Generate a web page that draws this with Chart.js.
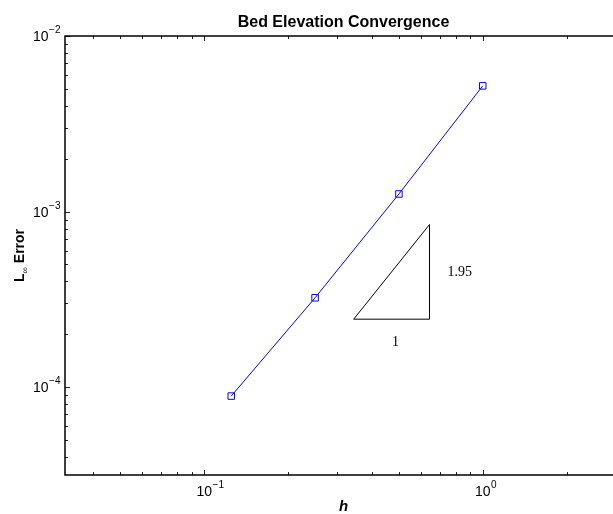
<!DOCTYPE html>
<html>
<head>
<meta charset="utf-8">
<script src="https://cdn.jsdelivr.net/npm/chart.js@4"></script>
<style>
  html, body { margin: 0; padding: 0; background: #fff; overflow: hidden; }
  canvas { display: block; }
</style>
</head>
<body>
<canvas id="convergence" width="640" height="514"></canvas>
<script>
// values
const hValues = [0.125, 0.25, 0.5, 1];
const errorValues = [8.9e-5, 3.23e-4, 1.26e-3, 5.2e-3];
const slopeTriangleH = [0.344, 0.644, 0.644, 0.344];
const slopeTriangleErr = [2.44e-4, 2.44e-4, 8.44e-4, 2.44e-4];
const slopeLabels = ['1', '1.95'];
const xTickExponents = [-1, 0];
const yTickExponents = [-4, -3, -2];
const titleText = 'Bed Elevation Convergence';
const xTitle = 'h';
const yTitle = ['L', '\u221e', ' Error'];

const xMin = Math.pow(10, -1.5);
const xMax = Math.pow(10, 0.5);
const yMin = Math.pow(10, -4.5);
const yMax = 1e-2;

const SANS = '"Liberation Sans", Arial, Helvetica, sans-serif';
const SERIF = '"Liberation Serif", "Times New Roman", serif';

const toPoints = (xs, ys) => xs.map((x, i) => ({ x, y: ys[i] }));

// "10" with a raised exponent, like the matlab tick labels
const drawPower = (ctx, exp, x, y, align) => {
  const base = '10';
  const sup = exp < 0 ? '\u2212' + Math.abs(exp) : String(exp);
  ctx.font = '14px ' + SANS;
  const wBase = ctx.measureText(base).width;
  ctx.font = '10px ' + SANS;
  const wSup = ctx.measureText(sup).width;
  let left;
  if (align === 'center') left = x - wBase / 2;
  else left = x - wBase - wSup;
  ctx.textAlign = 'left';
  ctx.textBaseline = 'alphabetic';
  ctx.font = '14px ' + SANS;
  ctx.fillText(base, left, y);
  ctx.font = '10px ' + SANS;
  ctx.fillText(sup, left + wBase + 0.5, y - 8);
};

const axesPlugin = {
  id: 'matlabAxes',
  afterDatasetsDraw(chart) {
    const { ctx, chartArea: area } = chart;
    const xs = chart.scales.x;
    const ys = chart.scales.y;
    ctx.save();

    // inward ticks on all four sides
    ctx.strokeStyle = '#222';
    ctx.lineWidth = 1;
    const mults = [1, 2, 3, 4, 5, 6, 7, 8, 9];
    for (let e = -3; e <= 1; e++) {
      mults.forEach((m) => {
        const v = m * Math.pow(10, e);
        if (v < xMin || v > xMax) return;
        const px = Math.round(xs.getPixelForValue(v)) + 0.5;
        const len = m === 1 ? 5 : 3;
        ctx.beginPath();
        ctx.moveTo(px, area.bottom);
        ctx.lineTo(px, area.bottom - len);
        ctx.moveTo(px, area.top);
        ctx.lineTo(px, area.top + len);
        ctx.stroke();
      });
    }
    for (let e = -5; e <= -2; e++) {
      mults.forEach((m) => {
        const v = m * Math.pow(10, e);
        if (v < yMin || v > yMax) return;
        const py = Math.round(ys.getPixelForValue(v)) + 0.5;
        const len = m === 1 ? 5 : 3;
        ctx.beginPath();
        ctx.moveTo(area.left, py);
        ctx.lineTo(area.left + len, py);
        ctx.moveTo(area.right, py);
        ctx.lineTo(area.right - len, py);
        ctx.stroke();
      });
    }

    // box
    ctx.strokeStyle = '#000';
    ctx.lineWidth = 1.5;
    ctx.strokeRect(area.left, area.top, area.right - area.left, area.bottom - area.top);

    // tick labels
    ctx.fillStyle = '#000';
    xTickExponents.forEach((e) => {
      drawPower(ctx, e, xs.getPixelForValue(Math.pow(10, e)), area.bottom + 21, 'center');
    });
    yTickExponents.forEach((e) => {
      drawPower(ctx, e, area.left - 5, ys.getPixelForValue(Math.pow(10, e)) + 5, 'right');
    });

    // slope triangle labels
    const bx0 = xs.getPixelForValue(slopeTriangleH[0]);
    const bx1 = xs.getPixelForValue(slopeTriangleH[1]);
    const by0 = ys.getPixelForValue(slopeTriangleErr[1]);
    const by1 = ys.getPixelForValue(slopeTriangleErr[2]);
    ctx.font = '14px ' + SERIF;
    ctx.textAlign = 'center';
    ctx.textBaseline = 'middle';
    ctx.fillText(slopeLabels[0], (bx0 + bx1) / 2 + 4, by0 + 23);
    ctx.textAlign = 'left';
    ctx.fillText(slopeLabels[1], bx1 + 18, (by0 + by1) / 2);

    // title
    const cx = (area.left + area.right) / 2;
    ctx.textAlign = 'center';
    ctx.textBaseline = 'alphabetic';
    ctx.font = 'bold 16px ' + SANS;
    ctx.fillText(titleText, cx, 27);

    // x title
    ctx.font = 'italic bold 15px ' + SANS;
    ctx.fillText(xTitle, cx, 511);

    // y title, rotated, with the infinity as a subscript
    const cy = (area.top + area.bottom) / 2;
    ctx.translate(23.5, cy);
    ctx.rotate(-Math.PI / 2);
    ctx.textAlign = 'left';
    ctx.font = 'bold 14px ' + SANS;
    const wL = ctx.measureText(yTitle[0]).width;
    const wErr = ctx.measureText(yTitle[2]).width;
    ctx.font = '9px ' + SANS;
    const wInf = ctx.measureText(yTitle[1]).width;
    let tx = -(wL + wInf + wErr) / 2;
    ctx.font = 'bold 14px ' + SANS;
    ctx.fillText(yTitle[0], tx, 0);
    tx += wL;
    ctx.font = '9px ' + SANS;
    ctx.fillText(yTitle[1], tx, 4);
    tx += wInf;
    ctx.font = 'bold 14px ' + SANS;
    ctx.fillText(yTitle[2], tx, 0);

    ctx.restore();
  },
};

const ctx = document.getElementById('convergence').getContext('2d');
new Chart(ctx, {
  type: 'line',
  data: {
    datasets: [
      {
        data: toPoints(hValues, errorValues),
        borderColor: '#0000ff',
        borderWidth: 1,
        pointStyle: 'rect',
        pointRadius: 4.6,
        pointBorderColor: '#0000ff',
        pointBackgroundColor: 'rgba(0, 0, 0, 0)',
        pointBorderWidth: 1,
        tension: 0,
      },
      {
        data: toPoints(slopeTriangleH, slopeTriangleErr),
        borderColor: '#000',
        borderWidth: 1,
        pointRadius: 0,
        tension: 0,
      },
    ],
  },
  options: {
    responsive: false,
    animation: false,
    events: [],
    layout: { padding: { left: 65, top: 36, right: 18, bottom: 39 } },
    scales: {
      x: { type: 'logarithmic', min: xMin, max: xMax, display: false },
      y: { type: 'logarithmic', min: yMin, max: yMax, display: false },
    },
    plugins: {
      legend: { display: false },
      tooltip: { enabled: false },
    },
  },
  plugins: [axesPlugin],
});
</script>
</body>
</html>
